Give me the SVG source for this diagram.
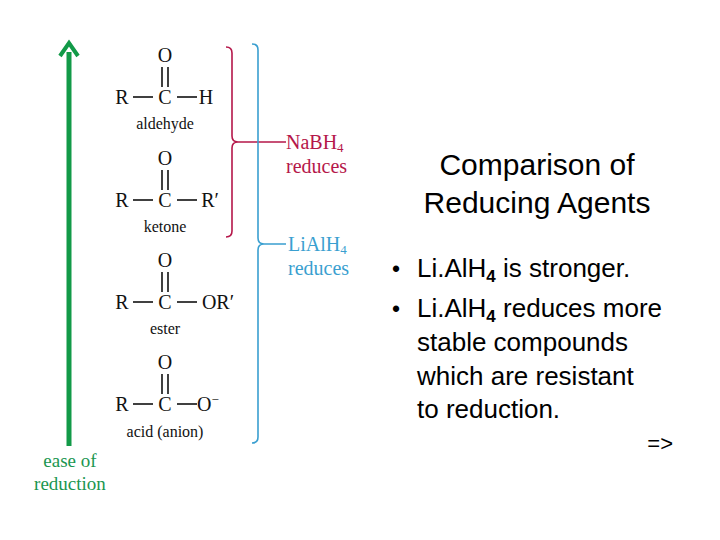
<svg xmlns="http://www.w3.org/2000/svg" width="720" height="540" viewBox="0 0 720 540">
<style>
.ch{font-family:"Liberation Serif",serif;font-size:20px;fill:#111;text-anchor:middle}
.nm{font-family:"Liberation Serif",serif;font-size:16px;fill:#111;text-anchor:middle}
.b{stroke:#111;stroke-width:1.6}
.rd{font-family:"Liberation Serif",serif;font-size:20px;fill:#b5174a}
.bl{font-family:"Liberation Serif",serif;font-size:20px;fill:#3a9fd0}
.gr{font-family:"Liberation Serif",serif;font-size:19px;fill:#1a9650;text-anchor:middle}
.t{font-family:"Liberation Sans",Arial,sans-serif;fill:#000}
</style>
<rect width="720" height="540" fill="#fff"/>
<g id="arrow">
<line x1="69" y1="446" x2="69" y2="52" stroke="#129a48" stroke-width="5"/>
<polyline points="60,56 69,43 78,56" fill="none" stroke="#129a48" stroke-width="4"/>
<text class="gr" x="70" y="467">ease of</text>
<text class="gr" x="70" y="490">reduction</text>
</g>
<defs>
<g id="carbonyl">
<text class="ch" x="165" y="0">O</text>
<line class="b" x1="162" y1="5" x2="162" y2="25"/>
<line class="b" x1="168" y1="5" x2="168" y2="25"/>
<text class="ch" x="122" y="42">R</text>
<line class="b" x1="133" y1="35" x2="153" y2="35"/>
<text class="ch" x="165" y="42">C</text>
<line class="b" x1="177" y1="35" x2="197" y2="35"/>
</g>
</defs>
<g id="aldehyde"><use href="#carbonyl" y="62"/><text class="ch" x="206" y="104">H</text><text class="nm" x="165" y="129">aldehyde</text></g>
<g id="ketone"><use href="#carbonyl" y="165"/><text class="ch" x="210" y="207">R′</text><text class="nm" x="165" y="232">ketone</text></g>
<g id="ester"><use href="#carbonyl" y="267"/><text class="ch" x="218" y="309">OR′</text><text class="nm" x="165" y="334">ester</text></g>
<g id="acid"><use href="#carbonyl" y="369"/><text class="ch" x="208" y="411">O<tspan font-size="13" dy="-7">−</tspan></text><text class="nm" x="165" y="437">acid (anion)</text></g>
<g id="connectors">
<path d="M226,47 Q232,47 232,53 V136 Q232,142 238,142 H286 M238,142 Q232,142 232,148 V231 Q232,237 226,237" fill="none" stroke="#b5174a" stroke-width="1.6"/>
<path d="M252,44 Q258,44 258,50 V238 Q258,244 264,244 H286 M264,244 Q258,244 258,250 V437 Q258,443 252,443" fill="none" stroke="#3a9fd0" stroke-width="1.6"/>
</g>
<g id="nabh4"><text class="rd" x="286" y="149">NaBH<tspan font-size="13" dy="3">4</tspan></text><text class="rd" x="286" y="173">reduces</text></g>
<g id="lialh4"><text class="bl" x="288" y="251">LiAlH<tspan font-size="13" dy="3">4</tspan></text><text class="bl" x="288" y="275">reduces</text></g>
<g id="title"><text class="t" x="537" y="175" font-size="30" text-anchor="middle">Comparison of</text><text class="t" x="537" y="213" font-size="30" text-anchor="middle">Reducing Agents</text></g>
<g id="bullets">
<text class="t" x="392" y="277" font-size="23">•</text>
<text class="t" x="417" y="277" font-size="26">Li.AlH<tspan font-size="17" dy="5" font-weight="bold">4</tspan><tspan dy="-5"> is stronger.</tspan></text>
<text class="t" x="392" y="317" font-size="23">•</text>
<text class="t" x="417" y="317" font-size="26">Li.AlH<tspan font-size="17" dy="5" font-weight="bold">4</tspan><tspan dy="-5"> reduces more</tspan></text>
<text class="t" x="417" y="351" font-size="26">stable compounds</text>
<text class="t" x="417" y="385" font-size="26">which are resistant</text>
<text class="t" x="417" y="418" font-size="26">to reduction.</text>
<text class="t" x="673" y="451" font-size="22" text-anchor="end">=&gt;</text>
</g>
</svg>
